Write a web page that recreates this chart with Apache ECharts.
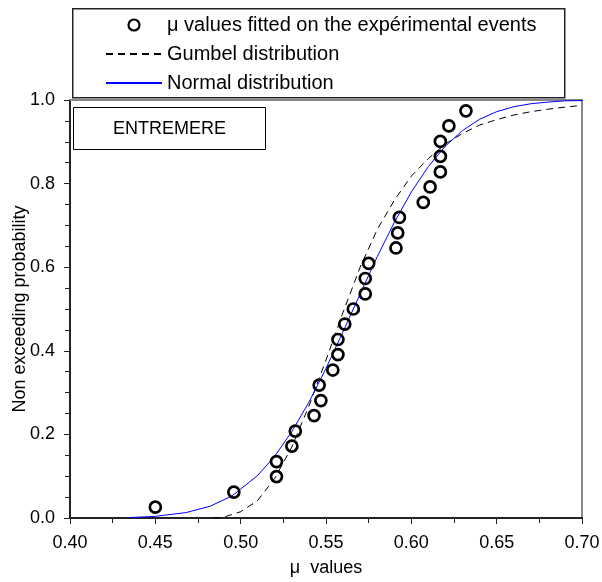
<!DOCTYPE html>
<html>
<head>
<meta charset="utf-8">
<script src="https://cdn.jsdelivr.net/npm/echarts@6/dist/echarts.min.js"></script>
<style>
html,body{margin:0;padding:0;background:#fff;}
#chart{width:602px;height:582px;}
</style>
</head>
<body>
<div id="chart"></div>
<script>
// Experimental points: mu values and their non-exceeding probability
const muValues = [0.450, 0.496, 0.521, 0.521, 0.530, 0.532, 0.543, 0.547, 0.546, 0.554,
                  0.557, 0.557, 0.561, 0.566, 0.573, 0.573, 0.575, 0.591, 0.592, 0.593,
                  0.607, 0.611, 0.617, 0.617, 0.617, 0.622, 0.632];
const probValues = [0.026, 0.062, 0.099, 0.135, 0.172, 0.208, 0.245, 0.281, 0.318, 0.354,
                    0.391, 0.427, 0.464, 0.500, 0.536, 0.573, 0.609, 0.646, 0.682, 0.719,
                    0.755, 0.792, 0.828, 0.865, 0.901, 0.938, 0.974];

// Gumbel distribution curve (dashed)
const gumbelX = [0.484, 0.490, 0.500, 0.510, 0.520, 0.530, 0.540, 0.550, 0.560, 0.570,
                 0.580, 0.590, 0.600, 0.610, 0.620, 0.630, 0.640, 0.650, 0.660, 0.670,
                 0.680, 0.690, 0.697];
const gumbelY = [0.000, 0.002, 0.015, 0.042, 0.095, 0.170, 0.268, 0.378, 0.492, 0.600,
                 0.690, 0.760, 0.818, 0.860, 0.895, 0.920, 0.940, 0.953, 0.964, 0.972,
                 0.978, 0.983, 0.986];

// Normal distribution curve (blue)
const normalX = [0.435, 0.450, 0.468, 0.482, 0.495, 0.510, 0.520, 0.530, 0.540, 0.550,
                 0.560, 0.570, 0.580, 0.590, 0.600, 0.610, 0.620, 0.630, 0.640, 0.650,
                 0.660, 0.670, 0.680, 0.690, 0.705];
const normalY = [0.001, 0.004, 0.013, 0.028, 0.053, 0.102, 0.148, 0.207, 0.277, 0.358,
                 0.446, 0.536, 0.625, 0.707, 0.780, 0.841, 0.890, 0.927, 0.954, 0.972,
                 0.984, 0.991, 0.995, 0.998, 0.999];

const legendNames = ['μ values fitted on the expérimental events', 'Gumbel distribution', 'Normal distribution'];
const boxLabel = 'ENTREMERE';
const xName = 'μ  values';
const yName = 'Non exceeding probability';

const FONT = 'Liberation Sans, Arial, sans-serif';
const zip = (a, b) => a.map((v, i) => [v, b[i]]);

const chart = echarts.init(document.getElementById('chart'), null, {renderer: 'canvas'});
chart.setOption({
  animation: false,
  backgroundColor: '#fff',
  textStyle: {fontFamily: FONT},
  title: {
    text: boxLabel,
    left: 73, top: 107,
    padding: [13, 40, 12, 40],
    borderColor: '#000', borderWidth: 1,
    backgroundColor: '#fff',
    textStyle: {fontFamily: FONT, fontSize: 18, fontWeight: 'normal', color: '#000'}
  },
  graphic: [{
    type: 'rect', left: 72, top: 8, z: -1,
    shape: {width: 492, height: 89},
    style: {fill: '#fff', stroke: '#222', lineWidth: 1.5}
  }],
  legend: {
    data: [
      {name: legendNames[0], itemStyle: {color: 'rgba(255,255,255,0)', borderColor: '#000', borderWidth: 2.2, opacity: 1}},
      {name: legendNames[1], itemStyle: {opacity: 0}},
      {name: legendNames[2], itemStyle: {opacity: 0}}
    ],
    orient: 'vertical',
    left: 100, top: 10,
    itemWidth: 56, itemHeight: 11, itemGap: 9,
    textStyle: {fontFamily: FONT, fontSize: 20, color: '#000'},
    selectedMode: false
  },
  grid: {left: 70, right: 20, top: 100, bottom: 64, containLabel: false, outerBoundsMode: 'none'},
  xAxis: [{
    type: 'value', min: 0.40, max: 0.70, interval: 0.05,
    name: xName, nameLocation: 'middle', nameGap: 41, nameMoveOverlap: false,
    nameTextStyle: {fontFamily: FONT, fontSize: 18, color: '#000'},
    axisLine: {show: true, onZero: false, lineStyle: {color: '#222', width: 2}},
    axisTick: {show: true, inside: false, length: 6, lineStyle: {color: '#222', width: 1}},
    minorTick: {show: true, splitNumber: 2, length: 5, lineStyle: {color: '#222', width: 1}},
    axisLabel: {fontFamily: FONT, fontSize: 18, color: '#000', margin: 16,
                formatter: v => v.toFixed(2)},
    splitLine: {show: false}
  }, {
    type: 'value', position: 'top', min: 0.40, max: 0.70,
    axisLine: {show: true, onZero: false, lineStyle: {color: '#888', width: 2}},
    axisTick: {show: false}, axisLabel: {show: false}, splitLine: {show: false}
  }],
  yAxis: [{
    type: 'value', min: 0, max: 1, interval: 0.2,
    name: yName, nameLocation: 'middle', nameGap: 41, nameMoveOverlap: false,
    nameTextStyle: {fontFamily: FONT, fontSize: 18, color: '#000'},
    axisLine: {show: true, onZero: false, lineStyle: {color: '#222', width: 2}},
    axisTick: {show: true, inside: false, length: 6, lineStyle: {color: '#222', width: 1}},
    minorTick: {show: true, splitNumber: 4, length: 5, lineStyle: {color: '#222', width: 1}},
    axisLabel: {fontFamily: FONT, fontSize: 18, color: '#000', margin: 15,
                formatter: v => v.toFixed(1)},
    splitLine: {show: false}
  }, {
    type: 'value', position: 'right', min: 0, max: 1,
    axisLine: {show: true, onZero: false, lineStyle: {color: '#888', width: 2}},
    axisTick: {show: false}, axisLabel: {show: false}, splitLine: {show: false}
  }],
  series: [{
    name: legendNames[0],
    type: 'scatter',
    data: zip(muValues, probValues),
    symbol: 'circle',
    symbolSize: 11,
    itemStyle: {color: 'rgba(255,255,255,0)', borderColor: '#000', borderWidth: 2.7, opacity: 1},
    z: 5
  }, {
    name: legendNames[1],
    type: 'line',
    data: zip(gumbelX, gumbelY),
    symbol: 'none', showSymbol: false,
    lineStyle: {color: '#000', width: 1, type: [7, 5]},
    itemStyle: {color: '#000'},
    z: 3
  }, {
    name: legendNames[2],
    type: 'line',
    data: zip(normalX, normalY),
    symbol: 'none', showSymbol: false, clip: false,
    lineStyle: {color: '#0000ff', width: 1},
    itemStyle: {color: '#0000ff'},
    z: 4
  }]
});
</script>
</body>
</html>
